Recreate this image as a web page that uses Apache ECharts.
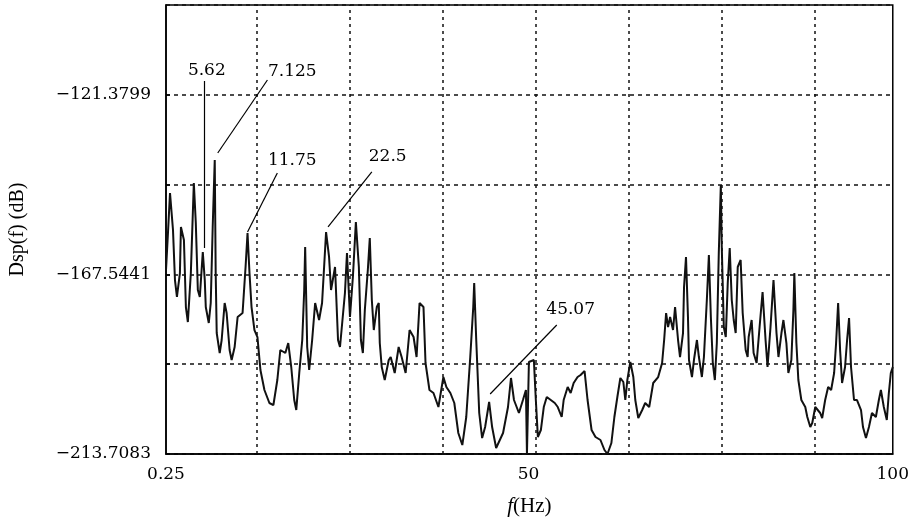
<!DOCTYPE html>
<html>
<head>
<meta charset="utf-8">
<script src="https://cdn.jsdelivr.net/npm/echarts@6/dist/echarts.min.js"></script>
<style>html,body{margin:0;padding:0;background:#fff}#c{width:912px;height:525px}</style>
</head>
<body>
<div id="c"></div>
<script>
// Frequency (Hz)
const freq = [0.25,0.52,0.80,1.21,1.48,1.75,2.16,2.30,2.71,2.98,3.25,3.66,4.07,4.34,4.62,4.89,5.30,5.57,5.71,6.12,
6.39,6.66,6.94,7.07,7.21,7.62,7.89,8.30,8.57,8.98,9.26,9.67,10.08,10.76,11.17,11.44,11.71,11.99,12.39,12.80,
13.21,13.76,14.44,14.99,15.53,15.94,16.63,17.03,17.44,17.85,18.13,18.54,18.95,19.22,19.35,19.63,19.90,20.31,20.72,21.26,
21.67,21.95,22.22,22.63,22.90,23.31,23.45,23.86,24.13,24.81,25.09,25.50,25.90,26.31,26.72,27.00,27.27,27.54,27.95,28.22,
28.50,28.77,29.18,29.45,29.59,29.86,30.27,30.82,31.09,31.64,32.18,32.59,33.14,33.68,34.23,34.64,35.05,35.59,35.87,36.41,
36.96,37.64,38.32,38.73,39.28,39.82,40.37,40.92,41.46,42.01,42.42,42.55,42.83,43.24,43.64,44.05,44.60,45.01,45.56,46.51,
47.19,47.60,48.01,48.69,49.24,49.65,49.79,50.06,50.33,50.74,51.01,51.29,51.70,52.10,52.51,53.06,53.61,54.02,54.56,54.83,
55.38,55.79,56.20,56.74,57.15,57.70,58.11,58.66,59.20,59.88,60.43,60.84,61.38,61.79,62.20,62.61,63.02,63.29,63.57,63.98,
64.39,64.66,65.07,65.61,66.02,66.57,67.12,67.80,68.34,68.62,68.89,69.16,69.44,69.84,70.12,70.53,70.80,71.21,71.35,71.62,
71.89,72.03,72.44,72.71,73.12,73.39,73.80,74.08,74.48,74.76,75.03,75.30,75.58,75.85,76.12,76.40,76.53,76.81,77.08,77.35,
77.62,77.90,78.17,78.44,78.72,79.12,79.40,79.81,80.08,80.22,80.63,80.90,81.31,81.72,82.13,82.54,82.81,83.22,83.63,84.04,
84.31,84.72,84.99,85.40,85.67,86.08,86.36,86.49,86.77,87.04,87.45,87.99,88.27,88.68,88.95,89.36,89.63,90.04,90.31,90.72,
91.13,91.54,91.95,92.22,92.50,92.77,93.04,93.45,93.73,94.00,94.27,94.68,95.09,95.64,95.91,96.32,96.73,97.14,97.68,98.09,
98.37,98.77,99.18,99.46,99.73,100.00];
// Dsp(f) (dB)
const dsp = [-166.41,-156.90,-146.62,-156.13,-168.99,-173.35,-167.19,-155.36,-158.70,-175.93,-179.78,-167.19,-144.05,-154.33,-171.56,-173.35,-161.79,-168.99,-175.93,-180.04,
-174.90,-155.36,-138.14,-167.19,-182.61,-187.75,-184.41,-174.90,-177.47,-186.98,-189.55,-186.21,-178.50,-177.47,-165.64,-156.90,-167.19,-175.93,-181.84,-183.64,
-192.12,-197.26,-200.60,-201.12,-194.69,-186.98,-187.75,-185.18,-191.35,-199.83,-202.40,-192.89,-184.41,-171.56,-160.50,-186.21,-192.12,-184.41,-174.90,-179.27,
-174.90,-165.64,-156.65,-163.07,-171.56,-167.19,-165.64,-184.41,-186.21,-172.33,-162.04,-178.50,-168.21,-154.08,-165.64,-184.41,-187.75,-176.70,-166.41,-158.19,
-174.13,-181.84,-175.93,-174.90,-185.18,-191.35,-194.69,-189.55,-188.78,-192.89,-186.21,-188.78,-192.89,-181.84,-183.64,-188.78,-174.90,-175.93,-190.32,-197.26,
-198.03,-201.63,-193.92,-196.49,-198.03,-200.60,-208.31,-211.40,-204.20,-188.78,-175.93,-169.76,-184.41,-203.17,-209.60,-206.77,-200.34,-206.77,-212.17,-208.31,
-201.63,-194.17,-199.83,-203.17,-199.83,-197.26,-213.71,-190.06,-190.32,-189.55,-199.83,-209.34,-207.54,-201.63,-199.06,-199.83,-200.60,-201.63,-204.20,-199.83,
-196.49,-198.03,-195.46,-193.92,-193.40,-192.38,-199.83,-207.54,-209.34,-210.11,-212.68,-213.71,-210.88,-204.20,-199.06,-194.17,-195.20,-199.83,-194.69,-190.06,
-193.92,-199.83,-204.46,-202.40,-200.60,-201.63,-195.46,-193.92,-190.32,-184.41,-177.47,-181.07,-178.50,-181.84,-175.93,-184.41,-188.78,-182.61,-170.78,-163.07,
-178.50,-189.55,-193.92,-189.55,-184.41,-188.78,-193.92,-188.78,-174.13,-162.56,-178.50,-190.32,-194.69,-185.18,-162.04,-144.57,-160.50,-181.07,-183.64,-169.76,
-160.76,-174.13,-179.27,-182.61,-165.64,-163.84,-177.47,-186.98,-188.78,-183.64,-179.27,-187.75,-190.32,-181.07,-172.07,-184.41,-191.35,-181.07,-168.99,-182.61,
-188.78,-182.61,-179.27,-185.18,-192.89,-189.55,-176.70,-167.19,-185.18,-194.69,-199.83,-201.63,-204.20,-206.77,-205.74,-201.63,-201.12,-203.17,-204.46,-199.83,
-196.49,-197.26,-192.89,-185.18,-174.90,-186.98,-195.46,-191.35,-184.41,-178.75,-191.35,-199.83,-199.83,-202.40,-206.77,-209.60,-206.77,-203.17,-204.20,-199.83,
-197.26,-201.63,-204.97,-198.03,-192.89,-191.35];

// Axis settings (data units)
const yMin = -213.7083, yStep = 23.0821, yMax = -98.2978;
const xTickValues = [0.25, 50, 100];
const xTickLabels = ['0.25', '50', '100'];
const xGridValues = [12.75, 25.5, 38.25, 51, 63.75, 76.5, 89.25];

// Peak annotations: label, label position [f, dB], leader line from -> to
const annLabels = ['5.62', '7.125', '11.75', '22.5', '45.07'];
const annTextPos = [[5.85, -115.26], [17.58, -115.52], [17.58, -138.40], [30.68, -137.37], [55.79, -176.70]];
const annLineFrom = [[5.50, -117.83], [14.17, -117.58], [15.53, -141.48], [28.50, -141.22], [53.88, -180.55]];
const annLineTo = [[5.50, -160.76], [7.35, -136.34], [11.44, -156.65], [22.49, -155.36], [44.74, -198.29]];

const tickFont = 'DejaVu Serif';
const minus = s => s.replace('-', '\u2212');

const chart = echarts.init(document.getElementById('c'), null, {renderer: 'canvas'});
const gridDash = {color: '#111', width: 1.5, type: [4, 4]};

chart.setOption({
  animation: false,
  backgroundColor: '#fff',
  grid: {left: 163, right: 18, top: 5, bottom: 71, show: true, borderColor: '#000', borderWidth: 1.5, backgroundColor: 'transparent'},
  xAxis: {
    type: 'value', min: 0.25, max: 100,
    name: '{i|f}(Hz)', nameLocation: 'middle', nameGap: 42,
    nameTextStyle: {fontFamily: 'Liberation Serif', fontSize: 21, color: '#000',
      rich: {i: {fontFamily: 'Liberation Serif', fontStyle: 'italic', fontSize: 21, color: '#000'}}},
    axisLine: {show: true, lineStyle: {color: '#000', width: 1.5}},
    axisTick: {show: false},
    splitLine: {show: false},
    axisLabel: {
      customValues: xTickValues, margin: 12, color: '#000', fontFamily: tickFont, fontSize: 17,
      formatter: v => { const i = xTickValues.findIndex(t => Math.abs(t - v) < 1e-6); return i >= 0 ? xTickLabels[i] : ''; }
    }
  },
  yAxis: {
    type: 'value', min: yMin, max: yMax, interval: yStep,
    name: 'Dsp(f) (dB)', nameLocation: 'middle', nameGap: 138, nameRotate: 90,
    nameTextStyle: {fontFamily: 'Liberation Serif', fontSize: 20, color: '#000'},
    axisLine: {show: true, lineStyle: {color: '#000', width: 1.5}},
    axisTick: {show: true, inside: true, length: 4, lineStyle: {color: '#000', width: 1.5}},
    splitLine: {show: true, lineStyle: gridDash},
    axisLabel: {
      margin: 15, color: '#000', fontFamily: tickFont, fontSize: 17, showMaxLabel: false,
      formatter: (v, i) => (i % 2 === 0 && i < 5) ? minus(v.toFixed(4)) : ''
    }
  },
  series: [
    {
      type: 'line', name: 'Dsp', symbol: 'none', silent: true,
      data: freq.map((f, i) => [f, dsp[i]]),
      lineStyle: {color: '#111', width: 2},
      z: 3,
      markLine: {
        silent: true, symbol: 'none', label: {show: false},
        lineStyle: {color: '#111', width: 1.5, type: [3, 4]},
        data: xGridValues.map(v => ({xAxis: v}))
      }
    },
    {
      type: 'line', name: 'leaders', symbol: 'none', silent: true, z: 4,
      data: [],
      markLine: {
        silent: true, symbol: 'none', label: {show: false},
        lineStyle: {color: '#000', width: 1.2, type: 'solid'},
        data: annLineFrom.map((p, i) => [{coord: p}, {coord: annLineTo[i]}])
      }
    },
    {
      type: 'scatter', name: 'labels', symbolSize: 0, silent: true, z: 5,
      itemStyle: {opacity: 1},
      data: annTextPos.map((p, i) => ({value: p, name: annLabels[i]})),
      label: {show: true, position: 'inside', formatter: p => p.name, color: '#000', opacity: 1, fontFamily: tickFont, fontSize: 17}
    }
  ]
});
</script>
</body>
</html>
